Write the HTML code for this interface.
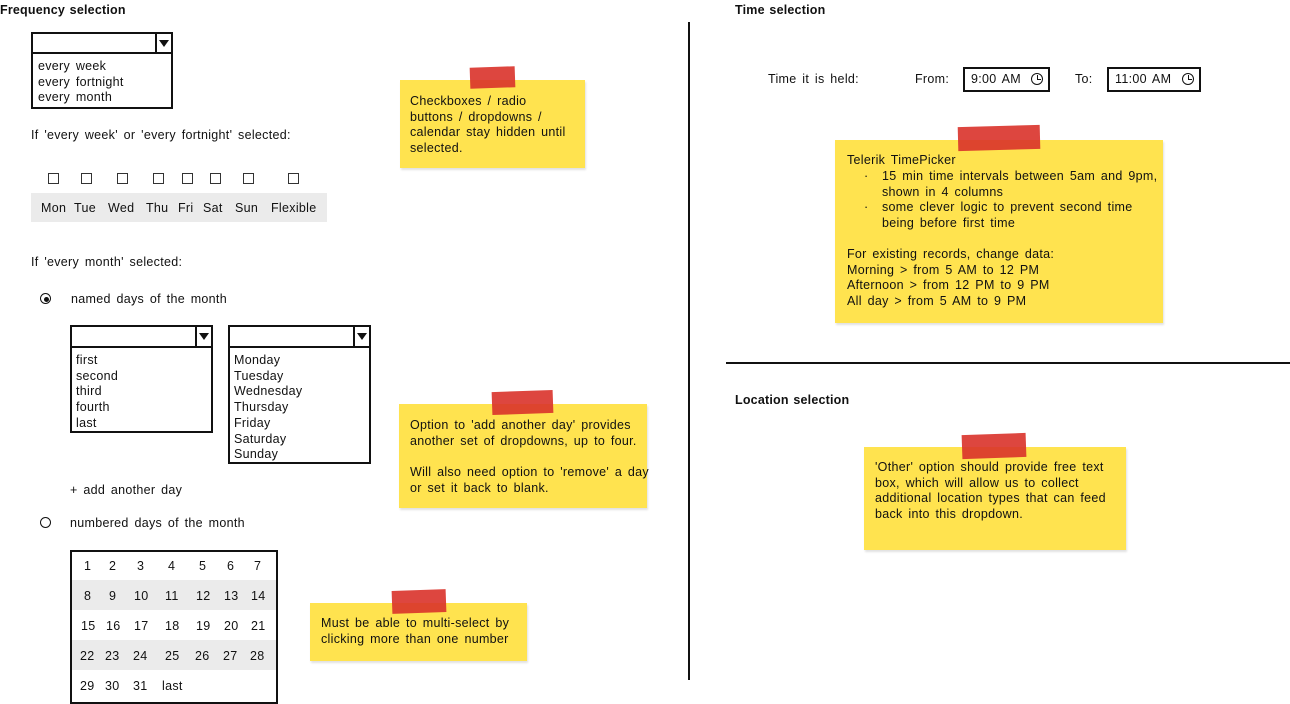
<!DOCTYPE html>
<html><head><style>
body{margin:0;width:1290px;height:704px;position:relative;background:#fff;font-family:"Liberation Sans",sans-serif;font-size:12.5px;letter-spacing:0.3px;word-spacing:2px;color:#111;overflow:hidden}
.t{position:absolute;line-height:16px;white-space:nowrap}
.b{font-weight:bold;letter-spacing:0.2px;word-spacing:1px}
.box{position:absolute;border:2px solid #111;box-sizing:border-box;background:#fff}
.st{position:absolute;background:#ffe34f;box-shadow:1px 2px 2px rgba(0,0,0,.12)}
.tape{position:absolute;background:#d9322a;opacity:.9}
.cb{position:absolute;width:9px;height:9px;border:1px solid #333;background:#fff}
.arr{position:absolute;top:0;right:0;width:16px;height:100%;border-left:2px solid #111;box-sizing:border-box}
.arr:after{content:"";position:absolute;left:2px;top:6px;border-left:5px solid transparent;border-right:5px solid transparent;border-top:7px solid #111}
.lst{position:absolute;line-height:15.7px;padding-left:4px}
.clk{position:absolute;right:5px;top:4px;width:10px;height:10px;border:1.5px solid #111;border-radius:50%}
.clk:before{content:"";position:absolute;left:4.5px;top:1px;width:1.5px;height:4.5px;background:#111}
.clk:after{content:"";position:absolute;left:4.5px;top:4.5px;width:4px;height:1.5px;background:#111}
</style></head><body>

<div class="t b" style="left:0;top:2px">Frequency selection</div>
<div class="box" style="left:31px;top:32px;width:142px;height:22px"><div class="arr"></div></div>
<div class="box" style="left:31px;top:52px;width:142px;height:57px"><div class="lst" style="top:5px;left:1px">every week<br>every fortnight<br>every month</div></div>

<div class="t" style="left:31px;top:127px">If 'every week' or 'every fortnight' selected:</div>
<div class="cb" style="left:48px;top:173px"></div><div class="cb" style="left:81px;top:173px"></div><div class="cb" style="left:117px;top:173px"></div><div class="cb" style="left:153px;top:173px"></div><div class="cb" style="left:182px;top:173px"></div><div class="cb" style="left:210px;top:173px"></div><div class="cb" style="left:243px;top:173px"></div><div class="cb" style="left:288px;top:173px"></div>
<div style="position:absolute;left:31px;top:193px;width:296px;height:29px;background:#ebebeb"></div>
<div class="t" style="left:41px;top:200px">Mon</div><div class="t" style="left:74px;top:200px">Tue</div><div class="t" style="left:108px;top:200px">Wed</div><div class="t" style="left:146px;top:200px">Thu</div><div class="t" style="left:178px;top:200px">Fri</div><div class="t" style="left:203px;top:200px">Sat</div><div class="t" style="left:235px;top:200px">Sun</div><div class="t" style="left:271px;top:200px">Flexible</div>

<div class="t" style="left:31px;top:254px">If 'every month' selected:</div>
<div style="position:absolute;left:40px;top:293px;width:9px;height:9px;border:1.5px solid #111;border-radius:50%"></div>
<div style="position:absolute;left:43.5px;top:296.5px;width:5px;height:5px;background:#111;border-radius:50%"></div>
<div class="t" style="left:71px;top:291px">named days of the month</div>

<div class="box" style="left:70px;top:325px;width:143px;height:23px"><div class="arr"></div></div>
<div class="box" style="left:70px;top:346px;width:143px;height:87px"><div class="lst" style="top:5px;left:0px">first<br>second<br>third<br>fourth<br>last</div></div>
<div class="box" style="left:228px;top:325px;width:143px;height:23px"><div class="arr"></div></div>
<div class="box" style="left:228px;top:346px;width:143px;height:118px"><div class="lst" style="top:5px;left:0px">Monday<br>Tuesday<br>Wednesday<br>Thursday<br>Friday<br>Saturday<br>Sunday</div></div>

<div class="t" style="left:70px;top:482px">+ add another day</div>
<div style="position:absolute;left:40px;top:517px;width:9px;height:9px;border:1.5px solid #111;border-radius:50%"></div>
<div class="t" style="left:70px;top:515px">numbered days of the month</div>

<div class="box" style="left:70px;top:550px;width:208px;height:154px">
<div style="position:absolute;left:0;top:28px;width:204px;height:30px;background:#ebebeb"></div>
<div style="position:absolute;left:0;top:88px;width:204px;height:30px;background:#ebebeb"></div>
</div>
<div class="t" style="left:84px;top:558px">1</div><div class="t" style="left:109px;top:558px">2</div><div class="t" style="left:137px;top:558px">3</div><div class="t" style="left:168px;top:558px">4</div><div class="t" style="left:199px;top:558px">5</div><div class="t" style="left:227px;top:558px">6</div><div class="t" style="left:254px;top:558px">7</div>
<div class="t" style="left:84px;top:588px">8</div><div class="t" style="left:109px;top:588px">9</div><div class="t" style="left:134px;top:588px">10</div><div class="t" style="left:165px;top:588px">11</div><div class="t" style="left:196px;top:588px">12</div><div class="t" style="left:224px;top:588px">13</div><div class="t" style="left:251px;top:588px">14</div>
<div class="t" style="left:81px;top:618px">15</div><div class="t" style="left:106px;top:618px">16</div><div class="t" style="left:134px;top:618px">17</div><div class="t" style="left:165px;top:618px">18</div><div class="t" style="left:196px;top:618px">19</div><div class="t" style="left:224px;top:618px">20</div><div class="t" style="left:251px;top:618px">21</div>
<div class="t" style="left:80px;top:648px">22</div><div class="t" style="left:105px;top:648px">23</div><div class="t" style="left:133px;top:648px">24</div><div class="t" style="left:165px;top:648px">25</div><div class="t" style="left:195px;top:648px">26</div><div class="t" style="left:223px;top:648px">27</div><div class="t" style="left:250px;top:648px">28</div>
<div class="t" style="left:80px;top:678px">29</div><div class="t" style="left:105px;top:678px">30</div><div class="t" style="left:133px;top:678px">31</div><div class="t" style="left:162px;top:678px">last</div>

<div class="st" style="left:400px;top:80px;width:185px;height:88px"></div>
<div class="tape" style="left:470px;top:67px;width:45px;height:21px;transform:rotate(-2deg)"></div>
<div class="t" style="left:410px;top:94px;line-height:15.7px">Checkboxes / radio<br>buttons / dropdowns /<br>calendar stay hidden until<br>selected.</div>

<div class="st" style="left:399px;top:404px;width:248px;height:104px"></div>
<div class="tape" style="left:492px;top:391px;width:61px;height:23px;transform:rotate(-2deg)"></div>
<div class="t" style="left:410px;top:418px;line-height:15.7px">Option to 'add another day' provides<br>another set of dropdowns, up to four.<br><br>Will also need option to 'remove' a day<br>or set it back to blank.</div>

<div class="st" style="left:310px;top:603px;width:217px;height:58px"></div>
<div class="tape" style="left:392px;top:590px;width:54px;height:23px;transform:rotate(-2deg)"></div>
<div class="t" style="left:321px;top:616px;line-height:15.7px">Must be able to multi-select by<br>clicking more than one number</div>

<div style="position:absolute;left:688px;top:22px;width:2px;height:658px;background:#111"></div>

<div class="t b" style="left:735px;top:2px">Time selection</div>
<div class="t" style="left:768px;top:71px">Time it is held:</div>
<div class="t" style="left:915px;top:71px">From:</div>
<div class="box" style="left:963px;top:67px;width:87px;height:25px"><div class="t" style="left:6px;top:2px">9:00 AM</div><div class="clk"></div></div>
<div class="t" style="left:1075px;top:71px">To:</div>
<div class="box" style="left:1107px;top:67px;width:94px;height:25px"><div class="t" style="left:6px;top:2px">11:00 AM</div><div class="clk"></div></div>

<div class="st" style="left:835px;top:140px;width:328px;height:183px"></div>
<div class="tape" style="left:958px;top:126px;width:82px;height:24px;transform:rotate(-1.5deg)"></div>
<div class="t" style="left:847px;top:153px;line-height:15.7px">Telerik TimePicker</div>
<div class="t" style="left:864px;top:169px;line-height:15.7px">·<br><br>·</div>
<div class="t" style="left:882px;top:169px;line-height:15.7px">15 min time intervals between 5am and 9pm,<br>shown in 4 columns<br>some clever logic to prevent second time<br>being before first time</div>
<div class="t" style="left:847px;top:247px;line-height:15.7px">For existing records, change data:<br>Morning &gt; from 5 AM to 12 PM<br>Afternoon &gt; from 12 PM to 9 PM<br>All day &gt; from 5 AM to 9 PM</div>

<div style="position:absolute;left:726px;top:362px;width:564px;height:1.5px;background:#111"></div>
<div class="t b" style="left:735px;top:392px">Location selection</div>

<div class="st" style="left:864px;top:447px;width:262px;height:103px"></div>
<div class="tape" style="left:962px;top:434px;width:64px;height:24px;transform:rotate(-2deg)"></div>
<div class="t" style="left:875px;top:460px;line-height:15.7px">'Other' option should provide free text<br>box, which will allow us to collect<br>additional location types that can feed<br>back into this dropdown.</div>
</body></html>
